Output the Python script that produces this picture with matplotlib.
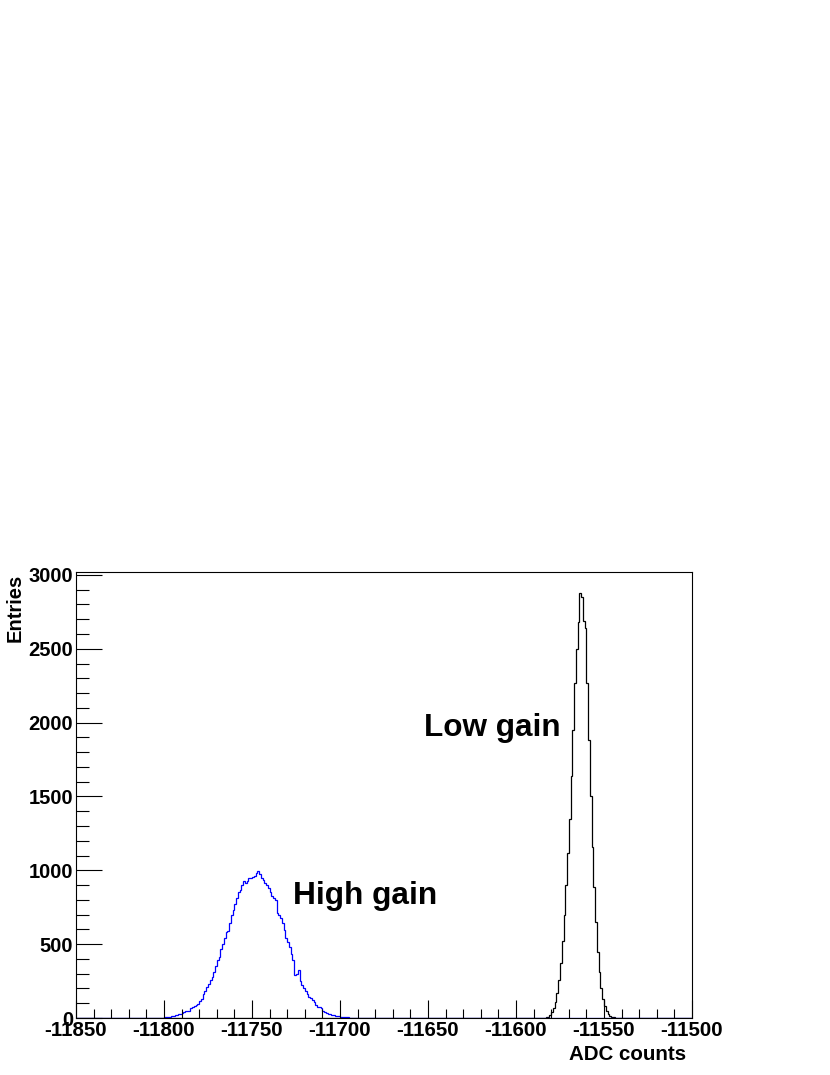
import numpy as np
import matplotlib
matplotlib.use("Agg")
import matplotlib.pyplot as plt

# histogram range: 350 bins of 1 ADC count
x_min, x_max = -11850, -11500

# high gain peak (blue), first bin lower edge and counts per bin
high_start = -11805
high_counts = [1, 1, 2, 2, 3, 5, 7, 8, 10, 12, 15, 18, 20, 25, 30, 34, 42, 50, 48, 45,
               65, 77, 80, 86, 95, 115, 130, 160, 180, 210, 230, 255, 280, 313, 350, 393,
               415, 470, 500, 545, 580, 590, 640, 700, 730, 770, 810, 855, 865, 900, 925,
               915, 925, 945, 948, 955, 960, 985, 995, 975, 948, 935, 915, 900, 880, 855,
               825, 810, 800, 711, 700, 677, 640, 596, 545, 515, 483, 430, 393, 290, 300,
               325, 250, 225, 205, 185, 160, 145, 135, 120, 110, 90, 77, 72, 65, 50, 42,
               35, 30, 27, 22, 18, 16, 14, 12, 10, 8, 6, 5, 4, 3, 2, 1, 1]

# low gain peak (black)
low_start = -11583
low_counts = [5, 10, 20, 40, 70, 110, 170, 260, 370, 520, 700, 900, 1120, 1350, 1640,
              1950, 2270, 2500, 2680, 2880, 2850, 2690, 2640, 2270, 1880, 1500, 1160, 890,
              650, 450, 310, 200, 130, 80, 50, 30, 15, 8, 4, 2, 1]

edges = np.arange(x_min, x_max + 1, 1)
high = np.zeros(len(edges) - 1)
low = np.zeros(len(edges) - 1)
i0 = high_start - x_min
high[i0:i0 + len(high_counts)] = high_counts
i0 = low_start - x_min
low[i0:i0 + len(low_counts)] = low_counts

plt.rcParams['font.family'] = ['Liberation Sans', 'DejaVu Sans']
plt.rcParams['font.weight'] = 'bold'
plt.rcParams['axes.unicode_minus'] = False

fig = plt.figure(figsize=(8.3, 10.75), dpi=100)
ax = fig.add_axes([76/830, 1 - 1018/1075, (692-76)/830, (1018-572)/1075])

ax.stairs(low, edges, color='black', lw=0.9)
ax.stairs(high, edges, color='blue', lw=0.9)

ax.set_xlim(x_min, x_max)
ax.set_ylim(0, 3020)
ax.set_xticks(np.arange(-11850, -11499, 50))
ax.set_xticks(np.arange(-11850, -11499, 10), minor=True)
ax.set_yticks(np.arange(0, 3001, 500))
ax.set_yticks(np.arange(0, 3001, 100), minor=True)
ax.tick_params(axis='x', which='major', direction='in', length=13, width=0.8, labelsize=14.8, pad=2)
ax.tick_params(axis='x', which='minor', direction='in', length=6.5, width=0.8)
ax.tick_params(axis='y', which='major', direction='in', length=18.5, width=0.8, labelsize=14.5, pad=2)
ax.tick_params(axis='y', which='minor', direction='in', length=9, width=0.8)
for s in ax.spines.values():
    s.set_linewidth(0.8)
for lab in ax.get_xticklabels() + ax.get_yticklabels():
    lab.set_fontweight('bold')

fig.text(686/830, 1 - 1055/1075, 'ADC counts', fontsize=14.8, fontweight='bold', ha='right', va='center')
fig.text(15/830, 1 - 574/1075, 'Entries', fontsize=14.5, fontweight='bold', ha='center', va='top', rotation=90)

ax.text(-11613.5, 1963, 'Low gain', fontsize=22.7, fontweight='bold', ha='center', va='center')
ax.text(-11686, 826, 'High gain', fontsize=22.8, fontweight='bold', ha='center', va='center')

fig.savefig('out.png', dpi=100)
